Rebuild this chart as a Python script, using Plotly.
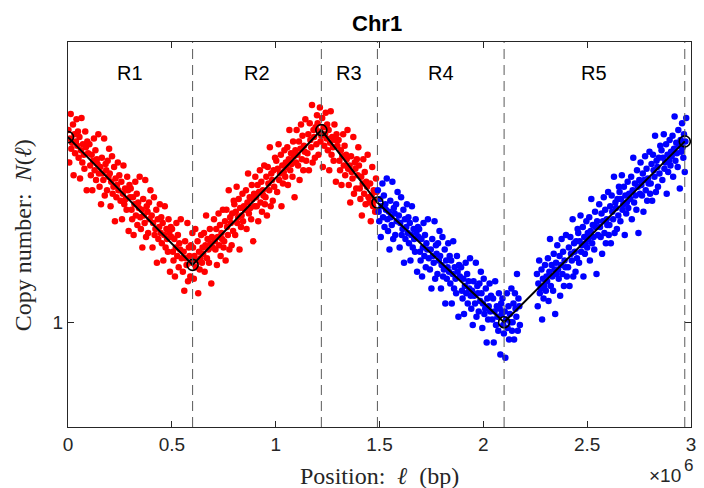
import plotly.graph_objects as go

# ---------------- data (positions in units of 1e6 bp, copy number N) ----------------
red_x = [
0.002,0.006,0.009,0.013,0.016,0.020,0.024,0.027,0.031,0.034,0.038,0.041,0.045,0.048,
0.051,0.055,0.058,0.062,0.065,0.069,0.072,0.076,0.079,0.083,0.086,0.090,0.093,0.097,
0.103,0.107,0.110,0.114,0.117,0.121,0.125,0.128,0.132,0.135,0.139,0.142,0.146,0.149,
0.152,0.156,0.159,0.163,0.166,0.170,0.174,0.177,0.181,0.184,0.188,0.191,0.195,0.198,
0.201,0.205,0.208,0.212,0.215,0.219,0.222,0.226,0.229,0.233,0.236,0.240,0.243,0.247,
0.253,0.257,0.260,0.264,0.267,0.271,0.275,0.278,0.282,0.285,0.289,0.292,0.296,0.299,
0.302,0.306,0.309,0.313,0.316,0.320,0.324,0.327,0.331,0.334,0.338,0.341,0.345,0.348,
0.351,0.355,0.358,0.362,0.365,0.369,0.372,0.376,0.379,0.383,0.386,0.390,0.393,0.397,
0.403,0.407,0.410,0.414,0.417,0.421,0.425,0.428,0.432,0.435,0.439,0.442,0.446,0.449,
0.452,0.456,0.459,0.463,0.466,0.470,0.474,0.477,0.481,0.484,0.488,0.491,0.495,0.498,
0.501,0.505,0.508,0.512,0.515,0.519,0.522,0.526,0.529,0.533,0.536,0.540,0.543,0.547,
0.553,0.557,0.560,0.564,0.567,0.571,0.575,0.578,0.582,0.585,0.589,0.592,0.596,0.599,
0.602,0.606,0.609,0.613,0.616,0.620,0.624,0.627,0.631,0.634,0.638,0.641,0.645,0.648,
0.651,0.655,0.658,0.662,0.665,0.669,0.672,0.676,0.679,0.683,0.686,0.690,0.693,0.697,
0.703,0.707,0.710,0.714,0.717,0.721,0.725,0.728,0.732,0.735,0.739,0.742,0.746,0.749,
0.752,0.756,0.759,0.763,0.766,0.770,0.774,0.777,0.781,0.784,0.788,0.791,0.795,0.798,
0.801,0.805,0.808,0.812,0.815,0.819,0.822,0.826,0.829,0.833,0.836,0.840,0.843,0.847,
0.853,0.857,0.860,0.864,0.867,0.871,0.875,0.878,0.882,0.885,0.889,0.892,0.896,0.899,
0.902,0.906,0.909,0.913,0.916,0.920,0.924,0.927,0.931,0.934,0.938,0.941,0.945,0.948,
0.951,0.955,0.958,0.962,0.965,0.969,0.972,0.976,0.979,0.983,0.986,0.990,0.993,0.997,
1.003,1.007,1.010,1.014,1.017,1.021,1.025,1.028,1.032,1.035,1.039,1.042,1.046,1.049,
1.052,1.056,1.059,1.063,1.066,1.070,1.074,1.077,1.081,1.084,1.088,1.091,1.095,1.098,
1.101,1.105,1.108,1.112,1.115,1.119,1.122,1.126,1.129,1.133,1.136,1.140,1.143,1.147,
1.153,1.157,1.160,1.164,1.167,1.171,1.175,1.178,1.182,1.185,1.189,1.192,1.196,1.199,
1.202,1.206,1.209,1.213,1.216,1.220,1.224,1.227,1.231,1.234,1.238,1.241,1.245,1.248,
1.251,1.255,1.258,1.262,1.265,1.269,1.272,1.276,1.279,1.283,1.286,1.290,1.293,1.297,
1.303,1.307,1.310,1.314,1.317,1.321,1.325,1.328,1.332,1.335,1.339,1.342,1.346,1.349,
1.352,1.356,1.359,1.363,1.366,1.370,1.374,1.377,1.381,1.384,1.388,1.391,1.395,1.398,
1.401,1.405,1.408,1.412,1.415,1.419,1.422,1.426,1.429,1.433,1.436,1.440,1.443,1.447,
1.451,1.455,1.458,1.462,1.465,1.469,1.472,1.476,1.479,1.483,1.486]
red_n = [
2.00,1.78,1.94,2.12,1.87,1.91,2.04,1.70,1.97,1.84,1.92,2.08,1.89,1.99,
1.81,1.95,1.68,1.86,2.09,1.78,1.90,1.83,1.74,1.99,1.88,1.61,1.92,1.84,
1.90,1.76,1.70,1.83,1.61,1.79,1.94,1.73,1.86,1.67,1.80,1.77,1.97,1.71,
1.63,1.75,1.53,1.81,1.71,1.67,1.94,1.58,1.77,1.73,1.61,1.79,1.69,1.87,
1.71,1.52,1.66,1.82,1.59,1.63,1.75,1.44,1.68,1.57,1.64,1.78,1.61,1.70,
1.55,1.66,1.45,1.59,1.76,1.53,1.62,1.56,1.50,1.69,1.61,1.39,1.64,1.57,
1.62,1.50,1.45,1.57,1.37,1.53,1.66,1.47,1.59,1.42,1.54,1.51,1.69,1.46,
1.40,1.50,1.31,1.56,1.47,1.43,1.67,1.36,1.52,1.49,1.38,1.54,1.45,1.61,
1.47,1.31,1.43,1.57,1.37,1.40,1.50,1.24,1.45,1.35,1.41,1.53,1.38,1.46,
1.33,1.43,1.25,1.37,1.52,1.31,1.40,1.35,1.29,1.45,1.38,1.20,1.41,1.36,
1.40,1.29,1.25,1.35,1.18,1.31,1.43,1.27,1.37,1.22,1.33,1.30,1.45,1.26,
1.20,1.29,1.12,1.34,1.26,1.23,1.43,1.16,1.31,1.27,1.18,1.32,1.24,1.38,
1.31,1.17,1.27,1.40,1.22,1.25,1.34,1.11,1.29,1.21,1.26,1.37,1.24,1.31,
1.28,1.38,1.20,1.32,1.47,1.26,1.35,1.30,1.24,1.40,1.33,1.15,1.36,1.31,
1.45,1.34,1.30,1.40,1.23,1.36,1.48,1.32,1.42,1.27,1.38,1.35,1.50,1.31,
1.34,1.44,1.25,1.50,1.41,1.37,1.61,1.30,1.46,1.43,1.32,1.48,1.39,1.55,
1.53,1.37,1.49,1.63,1.43,1.46,1.56,1.30,1.51,1.41,1.47,1.59,1.44,1.52,
1.50,1.61,1.40,1.54,1.71,1.48,1.57,1.51,1.45,1.64,1.56,1.34,1.59,1.52,
1.69,1.57,1.52,1.64,1.44,1.60,1.73,1.54,1.66,1.49,1.61,1.58,1.76,1.53,
1.57,1.69,1.47,1.75,1.65,1.61,1.88,1.52,1.71,1.67,1.55,1.73,1.63,1.81,
1.79,1.60,1.74,1.90,1.67,1.71,1.83,1.52,1.76,1.65,1.72,1.86,1.69,1.78,
1.75,1.88,1.64,1.80,2.00,1.73,1.84,1.77,1.69,1.92,1.82,1.57,1.86,1.78,
2.00,1.83,1.76,1.92,1.67,1.87,2.04,1.80,1.96,1.73,1.89,1.85,2.08,1.79,
1.84,1.97,1.73,2.05,1.93,1.88,2.19,1.78,2.00,1.95,1.81,2.02,1.90,2.11,
2.05,1.83,1.99,2.17,1.92,1.96,2.09,1.75,2.02,1.89,1.97,2.13,1.94,2.04,
1.86,2.00,1.73,1.91,2.14,1.83,1.95,1.88,1.79,2.04,1.93,1.66,1.97,1.89,
1.93,1.79,1.73,1.86,1.64,1.82,1.97,1.76,1.89,1.70,1.83,1.80,2.00,1.74,
1.64,1.76,1.54,1.82,1.72,1.68,1.95,1.59,1.78,1.74,1.62,1.80,1.70,1.88,
1.76,1.62,1.56,1.69,1.47,1.65,1.80,1.59,1.72,1.53,1.66,1.63,1.83,1.57,
1.54,1.65,1.44,1.58,1.75,1.52,1.61,1.55,1.49,1.68,1.60]

blue_x = [
1.492,1.496,1.499,1.503,1.506,1.510,1.514,1.517,1.521,1.524,1.528,1.531,1.535,1.538,
1.541,1.545,1.548,1.552,1.555,1.559,1.562,1.566,1.569,1.573,1.576,1.580,1.583,1.587,
1.593,1.597,1.600,1.604,1.607,1.611,1.615,1.618,1.622,1.625,1.629,1.632,1.636,1.639,
1.642,1.646,1.649,1.653,1.656,1.660,1.664,1.667,1.671,1.674,1.678,1.681,1.685,1.688,
1.691,1.695,1.698,1.702,1.705,1.709,1.712,1.716,1.719,1.723,1.726,1.730,1.733,1.737,
1.743,1.747,1.750,1.754,1.757,1.761,1.765,1.768,1.772,1.775,1.779,1.782,1.786,1.789,
1.792,1.796,1.799,1.803,1.806,1.810,1.814,1.817,1.821,1.824,1.828,1.831,1.835,1.838,
1.841,1.845,1.848,1.852,1.855,1.859,1.862,1.866,1.869,1.873,1.876,1.880,1.883,1.887,
1.893,1.897,1.900,1.904,1.907,1.911,1.915,1.918,1.922,1.925,1.929,1.932,1.936,1.939,
1.942,1.946,1.949,1.953,1.956,1.960,1.964,1.967,1.971,1.974,1.978,1.981,1.985,1.988,
1.991,1.995,1.998,2.002,2.005,2.009,2.012,2.016,2.019,2.023,2.026,2.030,2.033,2.037,
2.043,2.047,2.050,2.054,2.057,2.061,2.065,2.068,2.072,2.075,2.079,2.082,2.086,2.089,
2.092,2.096,2.099,2.103,2.106,2.110,2.114,2.117,2.121,2.124,2.128,2.131,2.135,2.138,
2.141,2.145,2.148,2.152,2.155,2.159,2.162,2.166,2.169,2.173,2.176,
2.258,2.262,2.265,2.269,2.272,2.276,2.280,2.283,2.287,2.290,2.294,2.297,2.301,2.304,
2.307,2.311,2.314,2.318,2.321,2.325,2.329,2.332,2.336,2.339,2.343,2.346,2.350,2.353,
2.356,2.360,2.363,2.367,2.370,2.374,2.377,2.381,2.384,2.388,2.391,2.395,2.398,2.402,
2.408,2.412,2.415,2.419,2.422,2.426,2.430,2.433,2.437,2.440,2.444,2.447,2.451,2.454,
2.457,2.461,2.464,2.468,2.471,2.475,2.479,2.482,2.486,2.489,2.493,2.496,2.500,2.503,
2.506,2.510,2.513,2.517,2.520,2.524,2.527,2.531,2.534,2.538,2.541,2.545,2.548,2.552,
2.558,2.562,2.565,2.569,2.572,2.576,2.580,2.583,2.587,2.590,2.594,2.597,2.601,2.604,
2.607,2.611,2.614,2.618,2.621,2.625,2.629,2.632,2.636,2.639,2.643,2.646,2.650,2.653,
2.656,2.660,2.663,2.667,2.670,2.674,2.677,2.681,2.684,2.688,2.691,2.695,2.698,2.702,
2.708,2.712,2.715,2.719,2.722,2.726,2.730,2.733,2.737,2.740,2.744,2.747,2.751,2.754,
2.757,2.761,2.764,2.768,2.771,2.775,2.779,2.782,2.786,2.789,2.793,2.796,2.800,2.803,
2.806,2.810,2.813,2.817,2.820,2.824,2.827,2.831,2.834,2.838,2.841,2.845,2.848,2.852,
2.858,2.862,2.865,2.869,2.872,2.876,2.880,2.883,2.887,2.890,2.894,2.897,2.901,2.904,
2.907,2.911,2.914,2.918,2.921,2.925,2.929,2.932,2.936,2.939,2.943,2.946,2.950,2.953,
2.957,2.960,2.963,2.966,2.970,2.973,2.977]
blue_n = [
1.61,1.49,1.44,1.56,1.36,1.52,1.65,1.46,1.58,1.41,1.53,1.50,1.68,1.45,
1.39,1.49,1.30,1.55,1.46,1.42,1.66,1.35,1.51,1.48,1.37,1.53,1.44,1.60,
1.47,1.31,1.43,1.57,1.37,1.40,1.50,1.24,1.45,1.35,1.41,1.53,1.38,1.46,
1.33,1.43,1.25,1.37,1.52,1.31,1.40,1.35,1.29,1.45,1.38,1.20,1.41,1.36,
1.40,1.29,1.25,1.35,1.18,1.31,1.43,1.27,1.37,1.22,1.33,1.30,1.45,1.26,
1.21,1.30,1.13,1.35,1.27,1.24,1.44,1.17,1.32,1.28,1.19,1.33,1.25,1.39,
1.27,1.13,1.23,1.36,1.18,1.21,1.30,1.07,1.25,1.17,1.22,1.33,1.20,1.27,
1.15,1.25,1.07,1.19,1.34,1.13,1.22,1.17,1.11,1.27,1.20,1.02,1.23,1.18,
1.22,1.12,1.09,1.17,1.03,1.14,1.24,1.11,1.19,1.07,1.16,1.13,1.26,1.10,
1.05,1.12,0.99,1.16,1.10,1.07,1.24,1.02,1.14,1.11,1.04,1.15,1.08,1.20,
1.11,0.98,1.07,1.17,1.03,1.05,1.13,0.93,1.09,1.01,1.06,1.15,1.04,1.10,
1.01,1.09,0.93,1.04,1.16,0.99,1.06,1.02,0.97,1.11,1.05,0.89,1.07,1.03,
1.09,0.99,0.96,1.04,0.88,1.01,1.11,0.98,1.06,0.94,1.03,1.00,1.13,0.97,
1.00,1.07,0.94,1.11,1.05,1.02,1.19,0.97,1.09,1.06,0.99,
1.19,1.06,1.15,1.25,1.11,1.13,1.21,1.01,1.17,1.09,1.14,1.23,1.12,1.18,
1.16,1.26,1.08,1.20,1.35,1.14,1.23,1.18,1.12,1.28,1.21,1.03,1.24,1.19,
1.32,1.21,1.17,1.27,1.10,1.23,1.35,1.19,1.29,1.14,1.25,1.22,1.37,1.18,
1.22,1.31,1.14,1.36,1.28,1.25,1.45,1.18,1.33,1.29,1.20,1.34,1.26,1.40,
1.38,1.24,1.34,1.47,1.29,1.32,1.41,1.18,1.36,1.28,1.33,1.44,1.31,1.38,
1.35,1.46,1.25,1.39,1.56,1.33,1.42,1.36,1.30,1.49,1.41,1.19,1.44,1.37,
1.53,1.41,1.36,1.48,1.28,1.44,1.57,1.38,1.50,1.33,1.45,1.42,1.60,1.37,
1.42,1.52,1.33,1.58,1.49,1.45,1.69,1.38,1.54,1.51,1.40,1.56,1.47,1.63,
1.60,1.44,1.56,1.70,1.50,1.53,1.63,1.37,1.58,1.48,1.54,1.66,1.51,1.59,
1.56,1.69,1.45,1.61,1.81,1.54,1.65,1.58,1.50,1.73,1.63,1.38,1.67,1.59,
1.78,1.64,1.58,1.71,1.49,1.67,1.82,1.61,1.74,1.55,1.68,1.65,1.85,1.59,
1.65,1.77,1.55,1.83,1.73,1.69,1.96,1.60,1.79,1.75,1.63,1.81,1.71,1.89,
1.86,1.67,1.81,1.97,1.74,1.78,1.90,1.59,1.83,1.72,1.79,1.93,1.76,1.85,
1.82,1.96,1.69,1.87,2.10,1.79,1.91,1.84,1.75,2.00,1.89,1.62,1.93,1.85,
2.05,1.88,1.81,1.97,1.72,1.92,2.09]

model_x = [0.0, 0.6, 1.22, 1.49, 2.1, 2.97]
model_n = [1.95, 1.23, 2.00, 1.54, 1.00, 1.92]

boundaries = [0.6, 1.22, 1.49, 2.1, 2.97]
region_labels = ["R1", "R2", "R3", "R4", "R5"]
region_edges = [0.0, 0.6, 1.22, 1.49, 2.1, 2.97]

x_ticks = [0, 0.5, 1, 1.5, 2, 2.5, 3]
x_ticktext = ["0", "0.5", "1", "1.5", "2", "2.5", "3"]
y_ticks = [1]
y_ticktext = ["1"]

# ---------------- figure ----------------
W, H = 704, 488
ML, MR, MT, MB = 68, 8, 42, 61
pw, ph = W - ML - MR, H - MT - MB

def px_x(px):
    return (px - ML) / pw

def px_y(py):
    return (H - MB - py) / ph

SANS = "Liberation Sans, Arial, Helvetica, sans-serif"
SERIF = "Liberation Serif, Times New Roman, serif"

fig = go.Figure()
fig.add_trace(go.Scatter(x=red_x, y=red_n, mode="markers",
                         marker=dict(color="#ff0000", size=6.5, line=dict(width=0)),
                         showlegend=False, hoverinfo="skip"))
fig.add_trace(go.Scatter(x=blue_x, y=blue_n, mode="markers",
                         marker=dict(color="#0000ff", size=6.5, line=dict(width=0)),
                         showlegend=False, hoverinfo="skip"))
fig.add_trace(go.Scatter(x=model_x, y=model_n, mode="lines+markers",
                         line=dict(color="black", width=2),
                         marker=dict(symbol="circle-open", size=11, color="black",
                                     line=dict(width=1.6, color="black")),
                         showlegend=False, hoverinfo="skip"))

for b in boundaries:
    fig.add_shape(type="line", x0=b, x1=b, xref="x", y0=0, y1=1, yref="paper",
                  line=dict(color="#5a5a5a", width=1, dash="10px,6px"), layer="above")

for i, lab in enumerate(region_labels):
    cx = (region_edges[i] + region_edges[i + 1]) / 2
    fig.add_annotation(x=cx, xref="x", y=px_y(73), yref="paper", text=lab,
                       showarrow=False, font=dict(family=SANS, size=20, color="black"),
                       xanchor="center", yanchor="middle")

# title
fig.add_annotation(x=px_x(379), xref="paper", y=px_y(23), yref="paper",
                   text="<b>Chr1</b>", showarrow=False,
                   font=dict(family=SANS, size=22, color="black"),
                   xanchor="center", yanchor="middle")
# axis labels
fig.add_annotation(x=px_x(382), xref="paper", y=px_y(476), yref="paper",
                   text="Position:  <i>ℓ</i>  (bp)", showarrow=False,
                   font=dict(family=SERIF, size=24, color="#262626"),
                   xanchor="center", yanchor="middle")
fig.add_annotation(x=px_x(23), xref="paper", y=px_y(235), yref="paper",
                   text="Copy number:  <i>N</i>(<i>ℓ</i>)", showarrow=False, textangle=-90,
                   font=dict(family=SERIF, size=24, color="#262626"),
                   xanchor="center", yanchor="middle")
# exponent
fig.add_annotation(x=px_x(688), xref="paper", y=px_y(475), yref="paper",
                   text="×10", showarrow=False,
                   font=dict(family=SANS, size=19, color="#262626"),
                   xanchor="right", yanchor="middle")
fig.add_annotation(x=px_x(687), xref="paper", y=px_y(465), yref="paper",
                   text="6", showarrow=False,
                   font=dict(family=SANS, size=17, color="#262626"),
                   xanchor="left", yanchor="middle")

axis_common = dict(showline=True, linecolor="#262626", linewidth=1, mirror="ticks",
                   ticks="inside", ticklen=6, tickwidth=1, tickcolor="#262626",
                   showgrid=False, zeroline=False,
                   tickfont=dict(family=SANS, size=19, color="#262626"))

fig.update_layout(
    width=W, height=H,
    margin=dict(l=ML, r=MR, t=MT, b=MB),
    paper_bgcolor="white", plot_bgcolor="white",
    xaxis=dict(range=[0, 3.0], tickvals=x_ticks, ticktext=x_ticktext, **axis_common),
    yaxis=dict(type="log", range=[-0.164, 0.439], tickvals=y_ticks, ticktext=y_ticktext,
               **axis_common),
    showlegend=False,
)

fig.write_html("out.html")
